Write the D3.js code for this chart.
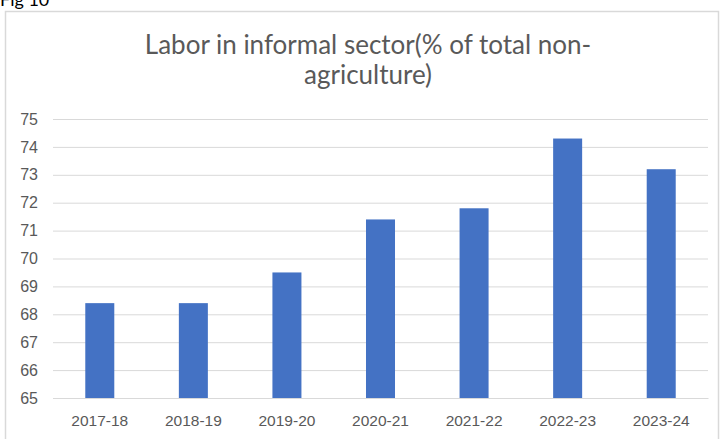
<!DOCTYPE html>
<html>
<head>
<meta charset="utf-8">
<script src="https://cdn.jsdelivr.net/npm/d3@7"></script>
<style>
  body { margin: 0; background: #fff; }
  svg { display: block; font-family: Lato, "Open Sans", "Liberation Sans", sans-serif; }
</style>
</head>
<body>
<svg id="bar_chart" width="720" height="439"></svg>
<script>
// data
var years = ["2017-18", "2018-19", "2019-20", "2020-21", "2021-22", "2022-23", "2023-24"];
var informal_share = [68.4, 68.4, 69.5, 71.4, 71.8, 74.3, 73.2];
var y_ticks = [65, 66, 67, 68, 69, 70, 71, 72, 73, 74, 75];
var title_lines = ["Labor in informal sector(% of total non-", "agriculture)"];

function draw_chart(){
    var svg = d3.select("#bar_chart");
    svg.selectAll("*").remove();

    var margin = {top: 119, left: 53},
        width = 655,
        height = 279;

    // chart frame
    svg.append("rect")
        .attr("x", 5.5).attr("y", 11.5)
        .attr("width", 713).attr("height", 440)
        .attr("fill", "#fff")
        .attr("stroke", "#d9d9d9")
        .attr("stroke-width", 1.5);

    // caption above the chart frame (cut off at the top in the original)
    svg.append("text")
        .attr("x", 0)
        .attr("y", 6)
        .attr("fill", "#000")
        .style("font-size", "18px")
        .text("Fig 10");

    svg.append("g")
        .selectAll("text")
        .data(title_lines)
        .enter().append("text")
        .attr("x", 368)
        .attr("y", function(d, i){ return 54 + i * 30; })
        .attr("text-anchor", "middle")
        .attr("fill", "#595959")
        .style("font-size", "26px")
        .text(function(d){ return d; });

    var g = svg.append("g")
        .attr("transform", "translate(" + margin.left + "," + margin.top + ")");

    var x = d3.scaleBand()
        .range([0, width])
        .domain(years)
        .paddingInner(0.69)
        .paddingOuter(0.345);

    var y = d3.scaleLinear()
        .domain([65, 75])
        .range([height, 0]);

    // gridlines
    g.append("g")
        .call(d3.axisLeft(y).tickValues(y_ticks).tickSize(-width).tickFormat(""))
        .call(function(a){ a.select(".domain").remove(); })
        .selectAll("line")
        .attr("stroke", "#d9d9d9");

    // bars
    g.selectAll(".bar")
        .data(years)
        .enter().append("rect")
        .attr("class", "bar")
        .attr("x", function(d){ return x(d); })
        .attr("width", x.bandwidth())
        .attr("y", function(d, i){ return y(informal_share[i]); })
        .attr("height", function(d, i){ return height - y(informal_share[i]); })
        .attr("fill", "#4472c4");

    // y axis labels
    var y_axis = g.append("g")
        .call(d3.axisLeft(y).tickValues(y_ticks).tickSize(0).tickPadding(15).tickFormat(d3.format("d")));
    y_axis.select(".domain").remove();
    y_axis.selectAll("text")
        .attr("fill", "#595959")
        .style("font-size", "16px");

    // x axis
    var x_axis = g.append("g")
        .attr("transform", "translate(0," + height + ")")
        .call(d3.axisBottom(x).tickSize(0).tickPadding(17));
    x_axis.select(".domain").attr("stroke", "#d9d9d9");
    x_axis.selectAll("text")
        .attr("fill", "#595959")
        .style("font-size", "15.5px");
}

draw_chart();
</script>
</body>
</html>
